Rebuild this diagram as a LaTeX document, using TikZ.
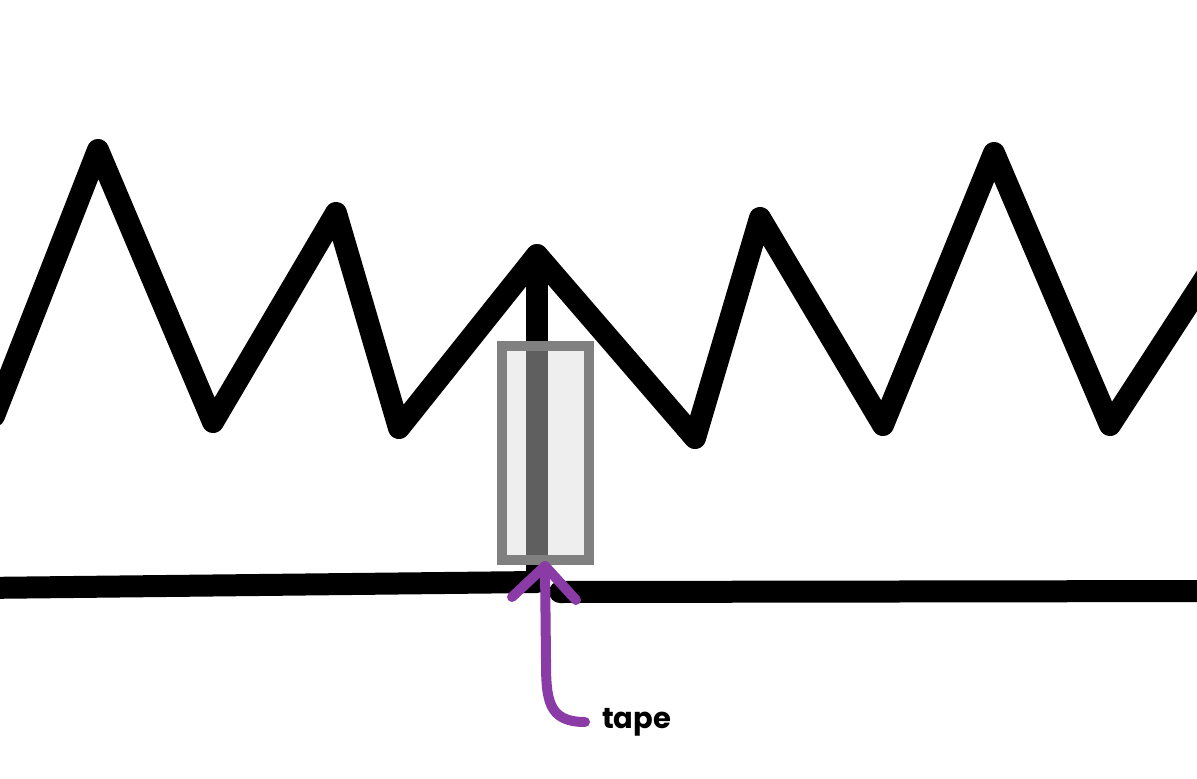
\documentclass[tikz,border=0pt]{standalone}
\usepackage{fontspec}
\newfontfamily\handfont{Poppins}[UprightFont=* Bold]
\definecolor{arrowpurple}{HTML}{8B3BA5}
\definecolor{tapeborder}{HTML}{808080}
\tikzset{
  wire/.style={line width=22pt, line cap=round, line join=round, black},
  tapebox/.style={draw=tapeborder, line width=10pt, fill=white!85!black, fill opacity=0.44},
  pointer/.style={arrowpurple, line width=10pt, line cap=round, line join=round},
}
\begin{document}
\begin{tikzpicture}[x=1pt,y=-1pt]
\useasboundingbox (0,0) rectangle (1197,779);
\clip (0,0) rectangle (1197,779);
% zigzag
\draw[wire] (-6,416) -- (98,150) -- (213,422) -- (336,213) -- (399,428) -- (537,255)
  -- (695,438) -- (760,218) -- (883,425) -- (994,153) -- (1110,425) -- (1230,240);
% vertical post
\draw[wire] (537,255) -- (537,578);
% ground segments
\draw[wire] (-20,588) -- (537,582);
\draw[wire] (560,592) -- (1230,591);
% tape
\node[tapebox, minimum width=87pt, minimum height=214pt, inner sep=0pt, anchor=center] (tape) at (545.5,453) {};
% label
\node[anchor=west, inner sep=0pt, font=\handfont\fontsize{29}{30}\selectfont] (lbl) at (602,722) {tape};
% arrow
\coordinate (tip) at (545,566);
\coordinate (tail) at (585,722);
\draw[pointer] (tail) .. controls (548,722) and (546,700) .. (546,660) -- (tip);
\draw[pointer] (512,597) -- (tip) -- (576,600);
\end{tikzpicture}
\end{document}
